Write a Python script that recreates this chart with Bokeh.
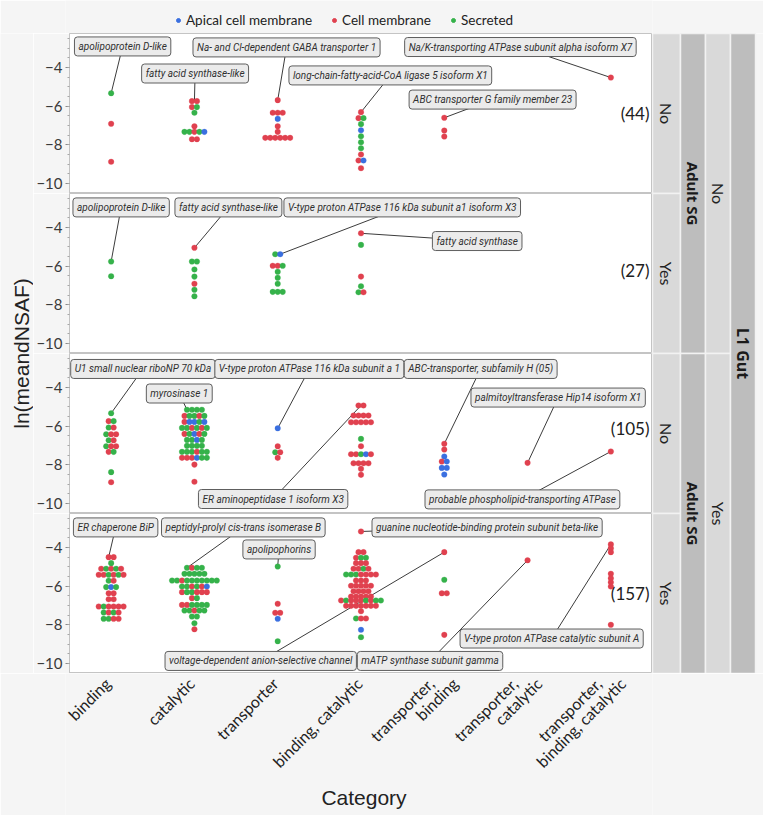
import math
from bokeh.plotting import figure
from bokeh.layouts import column, row
from bokeh.models import Range1d, FixedTicker, Label, ColumnDataSource, Legend, LegendItem
from bokeh.transform import factor_cmap
from bokeh.embed import file_html
from bokeh.resources import INLINE
from bokeh.core.properties import value

# ---------------- data ----------------
CATEGORIES = ["binding", "catalytic", "transporter", "binding, catalytic",
              "transporter, binding", "transporter, catalytic",
              "transporter, binding, catalytic"]
TICK_LABELS = ["binding", "catalytic", "transporter", "binding, catalytic",
               "transporter,\nbinding", "transporter,\ncatalytic",
               "transporter,\nbinding, catalytic"]
LOC_CODES = {"A": "Apical cell membrane", "C": "Cell membrane", "S": "Secreted"}
LOC_NAMES = ["Apical cell membrane", "Cell membrane", "Secreted"]
L1_GUT_LEVELS = ["No", "Yes"]
ADULT_SG_LEVELS = ["No", "Yes", "No", "Yes"]
PANEL_COUNTS = [44, 27, 105, 157]

# rows of the swarm: (category, ln(meandNSAF), localisation of each dot in the row)
P1_ROWS = [
    ("binding", -5.33, "S"), ("binding", -6.91, "C"), ("binding", -8.88, "C"),
    ("catalytic", -5.74, "CC"), ("catalytic", -6.05, "CS"), ("catalytic", -6.34, "S"),
    ("catalytic", -7.04, "C"), ("catalytic", -7.33, "SSCSA"), ("catalytic", -7.71, "CC"),
    ("transporter", -5.69, "C"), ("transporter", -6.34, "CCC"), ("transporter", -6.66, "A"),
    ("transporter", -7.04, "C"), ("transporter", -7.33, "C"), ("transporter", -7.64, "CCCCCC"),
    ("binding, catalytic", -6.31, "C"), ("binding, catalytic", -6.62, "CS"),
    ("binding, catalytic", -6.93, "S"), ("binding, catalytic", -7.25, "A"),
    ("binding, catalytic", -7.56, "S"), ("binding, catalytic", -7.87, "S"),
    ("binding, catalytic", -8.18, "S"), ("binding, catalytic", -8.50, "C"),
    ("binding, catalytic", -8.81, "CA"), ("binding, catalytic", -9.21, "C"),
    ("transporter, binding", -6.60, "C"), ("transporter, binding", -7.26, "C"),
    ("transporter, binding", -7.57, "C"),
    ("transporter, binding, catalytic", -4.52, "C"),
]
P2_ROWS = [
    ("binding", -5.76, "S"), ("binding", -6.52, "S"),
    ("catalytic", -5.05, "C"), ("catalytic", -5.76, "SS"), ("catalytic", -6.17, "S"),
    ("catalytic", -6.54, "S"), ("catalytic", -6.91, "C"), ("catalytic", -7.22, "S"),
    ("catalytic", -7.56, "S"),
    ("transporter", -5.38, "SA"), ("transporter", -5.98, "CCS"), ("transporter", -6.29, "S"),
    ("transporter", -6.60, "S"), ("transporter", -6.91, "S"), ("transporter", -7.33, "SSS"),
    ("binding, catalytic", -4.30, "C"), ("binding, catalytic", -4.90, "S"),
    ("binding, catalytic", -6.54, "C"), ("binding, catalytic", -7.04, "S"),
    ("binding, catalytic", -7.35, "SC"),
]
P3_ROWS = [
    ("binding", -5.33, "S"), ("binding", -5.74, "CS"), ("binding", -6.07, "SC"),
    ("binding", -6.42, "SCC"), ("binding", -6.73, "SC"), ("binding", -7.04, "SCC"),
    ("binding", -7.33, "CS"), ("binding", -8.38, "S"), ("binding", -8.90, "C"),
    ("catalytic", -5.15, "SSSS"), ("catalytic", -5.47, "CSSCS"), ("catalytic", -5.78, "CAASA"),
    ("catalytic", -6.09, "SSCSCS"), ("catalytic", -6.40, "CSACS"), ("catalytic", -6.71, "SSAS"),
    ("catalytic", -7.02, "SSSS"), ("catalytic", -7.33, "SSSCSS"), ("catalytic", -7.64, "CCCASS"),
    ("catalytic", -7.99, "C"), ("catalytic", -8.88, "C"),
    ("transporter", -6.11, "A"), ("transporter", -7.04, "C"), ("transporter", -7.35, "SC"),
    ("transporter", -7.64, "C"),
    ("binding, catalytic", -4.93, "CC"), ("binding, catalytic", -5.45, "CCCC"),
    ("binding, catalytic", -5.80, "CCCCC"), ("binding, catalytic", -6.66, "S"),
    ("binding, catalytic", -7.04, "C"), ("binding, catalytic", -7.45, "CCSAC"),
    ("binding, catalytic", -7.92, "CCCC"), ("binding, catalytic", -8.21, "C"),
    ("binding, catalytic", -8.52, "C"),
    ("transporter, binding", -6.91, "C"), ("transporter, binding", -7.21, "C"),
    ("transporter, binding", -7.57, "A"), ("transporter, binding", -7.83, "CA"),
    ("transporter, binding", -8.16, "AA"), ("transporter, binding", -8.50, "A"),
    ("transporter, catalytic", -7.90, "C"),
    ("transporter, binding, catalytic", -7.31, "C"),
]
P4_ROWS = [
    ("binding", -4.50, "CC"), ("binding", -4.81, "S"), ("binding", -5.10, "CSCSC"),
    ("binding", -5.41, "CCSCSC"), ("binding", -5.72, "SC"), ("binding", -6.05, "SAS"),
    ("binding", -6.37, "CC"), ("binding", -6.68, "CC"), ("binding", -7.05, "CSCCCC"),
    ("binding", -7.36, "SCSC"), ("binding", -7.69, "SSCC"),
    ("catalytic", -5.05, "SCSS"), ("catalytic", -5.36, "SSSSS"),
    ("catalytic", -5.71, "SSCSSSSSSS"), ("catalytic", -6.02, "SSCSCA"),
    ("catalytic", -6.31, "CSSCCC"), ("catalytic", -6.62, "CS"), ("catalytic", -6.97, "CCSSSS"),
    ("catalytic", -7.26, "SSCSS"), ("catalytic", -7.57, "SS"), ("catalytic", -7.92, "S"),
    ("catalytic", -8.23, "C"),
    ("transporter", -4.98, "S"), ("transporter", -6.91, "C"), ("transporter", -7.38, "CC"),
    ("transporter", -7.69, "A"), ("transporter", -8.85, "S"),
    ("binding, catalytic", -3.17, "C"), ("binding, catalytic", -4.24, "CC"),
    ("binding, catalytic", -4.53, "CSS"), ("binding, catalytic", -4.81, "CCC"),
    ("binding, catalytic", -5.10, "CCSC"), ("binding, catalytic", -5.40, "SSSCCCC"),
    ("binding, catalytic", -5.71, "CCC"), ("binding, catalytic", -5.98, "CCCCC"),
    ("binding, catalytic", -6.26, "CCCC"), ("binding, catalytic", -6.54, "CCCCC"),
    ("binding, catalytic", -6.74, "CSCCCSCSS"), ("binding, catalytic", -7.02, "CCCCCCC"),
    ("binding, catalytic", -7.30, "C"), ("binding, catalytic", -7.67, "SCC"),
    ("binding, catalytic", -8.26, "A"), ("binding, catalytic", -8.64, "S"),
    ("transporter, binding", -4.24, "C"), ("transporter, binding", -5.67, "S"),
    ("transporter, binding", -6.37, "CC"), ("transporter, binding", -8.52, "C"),
    ("transporter, catalytic", -4.66, "C"),
    ("transporter, binding, catalytic", -3.84, "C"), ("transporter, binding, catalytic", -4.04, "C"),
    ("transporter, binding, catalytic", -4.24, "C"), ("transporter, binding, catalytic", -5.36, "C"),
    ("transporter, binding, catalytic", -5.59, "C"), ("transporter, binding, catalytic", -5.80, "C"),
    ("transporter, binding, catalytic", -6.02, "C"), ("transporter, binding, catalytic", -8.00, "C"),
]

# labelled proteins: (name, category, ln(meandNSAF))
P1_CALLOUTS = [
    ("apolipoprotein D-like", "binding", -5.33),
    ("fatty acid synthase-like", "catalytic", -5.74),
    ("Na- and Cl-dependent GABA transporter 1", "transporter", -5.69),
    ("long-chain-fatty-acid-CoA ligase 5 isoform X1", "binding, catalytic", -6.31),
    ("ABC transporter G family member 23", "transporter, binding", -6.60),
    ("Na/K-transporting ATPase subunit alpha isoform X7", "transporter, binding, catalytic", -4.52),
]
P2_CALLOUTS = [
    ("apolipoprotein D-like", "binding", -5.76),
    ("fatty acid synthase-like", "catalytic", -5.05),
    ("V-type proton ATPase 116 kDa subunit a1 isoform X3", "transporter", -5.38),
    ("fatty acid synthase", "binding, catalytic", -4.30),
]
P3_CALLOUTS = [
    ("U1 small nuclear riboNP 70 kDa", "binding", -5.33),
    ("myrosinase 1", "catalytic", -5.15),
    ("V-type proton ATPase 116 kDa subunit a 1", "transporter", -6.11),
    ("ABC-transporter, subfamily H (05)", "transporter, binding", -6.91),
    ("palmitoyltransferase Hip14 isoform X1", "transporter, catalytic", -7.90),
    ("ER aminopeptidase 1 isoform X3", "binding, catalytic", -4.93),
    ("probable phospholipid-transporting ATPase", "transporter, binding, catalytic", -7.31),
]
P4_CALLOUTS = [
    ("ER chaperone BiP", "binding", -4.50),
    ("peptidyl-prolyl cis-trans isomerase B", "catalytic", -5.05),
    ("apolipophorins", "transporter", -4.98),
    ("guanine nucleotide-binding protein subunit beta-like", "binding, catalytic", -3.17),
    ("voltage-dependent anion-selective channel", "transporter, binding", -4.24),
    ("mATP synthase subunit gamma", "transporter, catalytic", -4.66),
    ("V-type proton ATPase catalytic subunit A", "transporter, binding, catalytic", -3.84),
]

# ---------------- layout / style ----------------
PAGE_BG = "#f5f5f5"
COLORS = ["#3a6fe0", "#e0414f", "#35b24a"]
FRAME_W = 587
PANEL_H = 160
LEFT_W = 33
AXIS_W = 32
STRIP_W = 111
LEGEND_H = 33
BOTTOM_H = 142
TOTAL_W = 763
Y_LO, Y_HI = -10.52, -2.24
X_HI = len(CATEGORIES)
PX = FRAME_W / X_HI
DOT_STEP = 5.0 / PX
LINE_STEP_PX = 24

# callout box centres (x in category units, y in data units, leader end shift in px)
CALLOUT_BOX = [
    [(0.638, -2.91, 0), (1.508, -4.31, 0), (2.606, -2.96, 0), (3.852, -4.41, 0),
     (5.080, -5.66, 0), (5.414, -2.94, 0)],
    [(0.620, -2.96, 0), (1.908, -2.96, 0), (3.995, -2.96, 2.5), (4.895, -4.70, 0)],
    [(0.882, -3.04, 0), (1.318, -4.31, -7.5), (2.880, -3.04, 0), (4.937, -3.04, 0),
     (5.867, -4.52, 0), (2.445, -9.77, 0), (5.438, -9.79, 0)],
    [(0.554, -2.96, -2.5), (2.087, -2.96, -7.5), (2.516, -4.10, 0), (5.014, -2.96, 0),
     (2.296, -9.87, 0), (4.329, -9.87, 0), (5.789, -8.71, 0)],
]
COUNT_Y = [-6.38, -6.23, -6.12, -6.38]

ALL_ROWS = [P1_ROWS, P2_ROWS, P3_ROWS, P4_ROWS]
ALL_CALLOUTS = [P1_CALLOUTS, P2_CALLOUTS, P3_CALLOUTS, P4_CALLOUTS]


def swarm(rows):
    xs, ys, locs = [], [], []
    for cat, y, codes in rows:
        ci = CATEGORIES.index(cat)
        n = len(codes)
        for i, c in enumerate(codes):
            xs.append(ci + 0.5 + (i - (n - 1) / 2) * DOT_STEP)
            ys.append(y)
            locs.append(LOC_CODES[c])
    return dict(x=xs, y=ys, loc=locs)


x_range = Range1d(0, X_HI)


def make_panel(k):
    p = figure(width=AXIS_W + FRAME_W, height=PANEL_H, x_range=x_range,
               y_range=Range1d(Y_LO, Y_HI), x_axis_location=None,
               output_backend="svg", toolbar_location=None,
               min_border_left=AXIS_W, min_border_right=0,
               min_border_top=0, min_border_bottom=0)
    p.background_fill_color = "white"
    p.border_fill_color = PAGE_BG
    p.outline_line_color = "#c4c4c4"
    p.grid.visible = False
    ax = p.yaxis[0]
    ax.ticker = FixedTicker(ticks=[-10, -8, -6, -4],
                            minor_ticks=[-10.5 + 0.5 * i for i in range(17)])
    ax.axis_line_color = "#c4c4c4"
    ax.major_tick_line_color = "#8c8c8c"
    ax.minor_tick_line_color = "#a8a8a8"
    ax.major_tick_out = 4
    ax.major_tick_in = 0
    ax.minor_tick_out = 2
    ax.minor_tick_in = 0
    ax.major_label_standoff = 3
    ax.major_label_text_font = "Lato"
    ax.major_label_text_font_size = "15px"
    ax.major_label_text_color = "#3a3a3a"

    # leader lines
    x0, y0, x1, y1 = [], [], [], []
    for (txt, cat, ty), (cx, cy, dpx) in zip(ALL_CALLOUTS[k], CALLOUT_BOX[k]):
        x0.append(cx); y0.append(cy)
        x1.append(CATEGORIES.index(cat) + 0.5 + dpx / PX); y1.append(ty)
    p.segment(x0=x0, y0=y0, x1=x1, y1=y1, line_color="#3c3c3c", line_width=1)

    src = ColumnDataSource(swarm(ALL_ROWS[k]))
    cmap = factor_cmap("loc", COLORS, LOC_NAMES)
    p.scatter(x="x", y="y", source=src, size=5.6, fill_color=cmap, line_color=cmap,
              line_width=0.3)

    for (txt, cat, ty), (cx, cy, dpx) in zip(ALL_CALLOUTS[k], CALLOUT_BOX[k]):
        p.add_layout(Label(x=cx, y=cy, text=txt, text_align="center",
                           text_baseline="middle", text_font="Roboto",
                           text_font_style="italic", text_font_size="10px",
                           text_color="#303030", background_fill_color="#ebebeb",
                           background_fill_alpha=1.0, border_line_color="#5e5e5e",
                           border_line_width=1, padding=4, border_radius=3))

    p.add_layout(Label(x=X_HI, y=COUNT_Y[k], x_offset=-3, text="(%d)" % PANEL_COUNTS[k],
                       text_align="right", text_baseline="middle", text_font="Lato",
                       text_font_size="17px", text_color="#202020"))
    return p


panels = [make_panel(k) for k in range(4)]

# ---- left: y axis title ----
left = figure(width=LEFT_W, height=4 * PANEL_H, x_range=Range1d(0, LEFT_W),
              y_range=Range1d(0, 4 * PANEL_H), x_axis_location=None, y_axis_location=None,
              output_backend="svg", toolbar_location=None, min_border=0)
left.background_fill_color = PAGE_BG
left.border_fill_color = PAGE_BG
left.outline_line_color = None
left.grid.visible = False
left.text(x=[21], y=[2 * PANEL_H], text=["ln(meandNSAF)"], angle=math.pi / 2,
          text_align="center", text_baseline="middle",
          text_font=value("Liberation Sans"), text_font_size="21px", text_color="#222222")

# ---- right: nested strips ----
strip = figure(width=STRIP_W, height=4 * PANEL_H, x_range=Range1d(0, STRIP_W),
               y_range=Range1d(0, 4 * PANEL_H), x_axis_location=None, y_axis_location=None,
               output_backend="svg", toolbar_location=None, min_border=0)
strip.background_fill_color = PAGE_BG
strip.border_fill_color = PAGE_BG
strip.outline_line_color = None
strip.grid.visible = False
H = 4 * PANEL_H
strip.quad(left=[0] * 4, right=[28] * 4,
           top=[H - i * PANEL_H for i in range(4)],
           bottom=[H - (i + 1) * PANEL_H for i in range(4)],
           fill_color="#d9d9d9", line_color="#f2f2f2", line_width=1.5)
strip.text(x=[14] * 4, y=[H - (i + 0.5) * PANEL_H for i in range(4)], text=ADULT_SG_LEVELS,
           angle=-math.pi / 2, text_align="center", text_baseline="middle",
           text_font=value("Lato"), text_font_size="16px", text_color="#222222")
strip.quad(left=[28] * 2, right=[53] * 2, top=[H, H / 2], bottom=[H / 2, 0],
           fill_color="#bdbdbd", line_color="#f2f2f2", line_width=1.5)
strip.text(x=[40.5] * 2, y=[H * 0.75, H * 0.25], text=["Adult SG"] * 2,
           angle=-math.pi / 2, text_align="center", text_baseline="middle",
           text_font=value("Noto Sans"), text_font_style="bold", text_font_size="15px",
           text_color="#1a1a1a")
strip.quad(left=[53] * 2, right=[78] * 2, top=[H, H / 2], bottom=[H / 2, 0],
           fill_color="#d9d9d9", line_color="#f2f2f2", line_width=1.5)
strip.text(x=[65.5] * 2, y=[H * 0.75, H * 0.25], text=L1_GUT_LEVELS,
           angle=-math.pi / 2, text_align="center", text_baseline="middle",
           text_font=value("Lato"), text_font_size="16px", text_color="#222222")
strip.quad(left=[78], right=[103], top=[H], bottom=[0],
           fill_color="#bdbdbd", line_color="#f2f2f2", line_width=1.5)
strip.text(x=[90.5], y=[H / 2], text=["L1 Gut"], angle=-math.pi / 2,
           text_align="center", text_baseline="middle", text_font=value("Noto Sans"),
           text_font_style="bold", text_font_size="16px", text_color="#1a1a1a")

# ---- bottom: category labels ----
bottom = figure(width=TOTAL_W, height=BOTTOM_H, x_range=x_range,
                y_range=Range1d(0, BOTTOM_H), x_axis_location=None, y_axis_location=None,
                output_backend="svg", toolbar_location=None,
                min_border_left=LEFT_W + AXIS_W, min_border_right=STRIP_W,
                min_border_top=0, min_border_bottom=0)
bottom.background_fill_color = PAGE_BG
bottom.border_fill_color = PAGE_BG
bottom.outline_line_color = None
bottom.grid.visible = False
lx, ly, lt = [], [], []
for i, lab in enumerate(TICK_LABELS):
    parts = lab.split("\n")
    n = len(parts)
    for j, part in enumerate(parts):
        lx.append(i + 0.5 + (j - (n - 1) / 2) * LINE_STEP_PX / PX)
        ly.append(BOTTOM_H - 7)
        lt.append(part)
bottom.text(x=lx, y=ly, text=lt, angle=math.pi / 4, text_align="right",
            text_baseline="middle", text_font=value("Lato"), text_font_size="16px",
            text_color="#222222")
bottom.text(x=[X_HI / 2 + 5 / PX], y=[18], text=["Category"], text_align="center",
            text_baseline="middle", text_font=value("Liberation Sans"),
            text_font_size="21px", text_color="#222222")

# ---- top: legend ----
top = figure(width=TOTAL_W, height=LEGEND_H, x_range=Range1d(0, 1), y_range=Range1d(0, 1),
             x_axis_location=None, y_axis_location=None, output_backend="svg",
             toolbar_location=None, min_border=0)
top.background_fill_color = PAGE_BG
top.border_fill_color = PAGE_BG
top.outline_line_color = None
top.grid.visible = False
items = []
for name, col in zip(LOC_NAMES, COLORS):
    r = top.scatter(x=[-5], y=[-5], size=6.5, fill_color=col, line_color=col)
    items.append(LegendItem(label=name, renderers=[r]))
legend = Legend(items=items, orientation="horizontal", location=(108, 5),
                border_line_alpha=0, background_fill_alpha=0, label_text_font="Lato",
                label_text_font_size="13.5px", label_text_color="#222222", glyph_width=10,
                glyph_height=10, spacing=17, label_standoff=3, padding=0, margin=0)
top.add_layout(legend, "center")

layout = column(top,
                row(left, column(*panels, spacing=0), strip, spacing=0),
                bottom, spacing=0)

open("out.html", "w").write(file_html(layout, INLINE))
